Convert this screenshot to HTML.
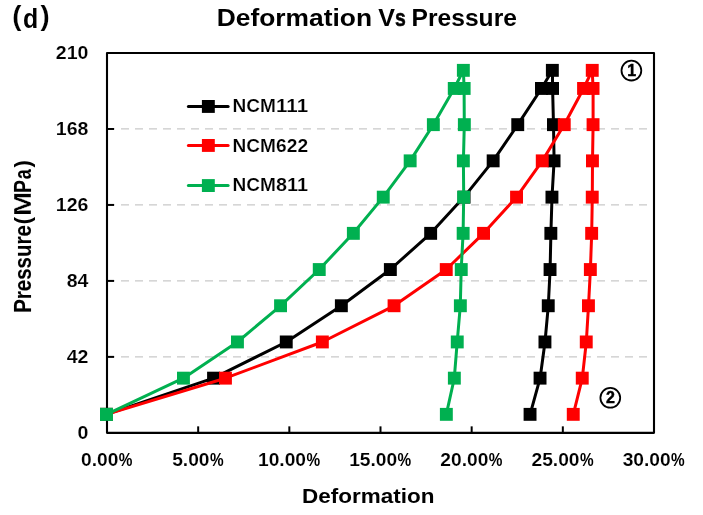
<!DOCTYPE html>
<html><head><meta charset="utf-8"><title>Deformation Vs Pressure</title>
<style>html,body{margin:0;padding:0;background:#fff;}body{width:703px;height:515px;overflow:hidden;}svg{display:block;will-change:transform;}text{font-family:"Liberation Sans",sans-serif;font-weight:bold;fill:#000;}</style>
</head><body>
<svg width="703" height="515" viewBox="0 0 703 515">
<g stroke="#c9c9c9" stroke-width="1.3" stroke-dasharray="8 6" fill="none">
<line x1="107.0" y1="356.88" x2="654.0" y2="356.88"/>
<line x1="107.0" y1="280.91" x2="654.0" y2="280.91"/>
<line x1="107.0" y1="204.94" x2="654.0" y2="204.94"/>
<line x1="107.0" y1="128.97" x2="654.0" y2="128.97"/>
</g>
<g fill="#000000" stroke="none">
<polyline fill="none" stroke="#000000" stroke-width="3.0" stroke-linejoin="round" stroke-linecap="round" points="106.5,414.4 213.5,378.2 286.2,342.0 341.4,305.8 390.3,269.5 430.7,233.3 464.0,197.1 493.1,160.9 517.8,124.7 541.5,88.5 552.4,70.3 552.6,88.5 553.5,124.7 554.1,160.9 552.0,197.1 550.9,233.3 550.1,269.5 548.3,305.8 545.0,342.0 540.1,378.2 530.1,414.4"/>
<rect x="100.0" y="407.9" width="12.9" height="12.9"/>
<rect x="207.1" y="371.7" width="12.9" height="12.9"/>
<rect x="279.8" y="335.5" width="12.9" height="12.9"/>
<rect x="334.9" y="299.3" width="12.9" height="12.9"/>
<rect x="383.9" y="263.1" width="12.9" height="12.9"/>
<rect x="424.2" y="226.9" width="12.9" height="12.9"/>
<rect x="457.6" y="190.7" width="12.9" height="12.9"/>
<rect x="486.7" y="154.4" width="12.9" height="12.9"/>
<rect x="511.3" y="118.2" width="12.9" height="12.9"/>
<rect x="535.0" y="82.0" width="12.9" height="12.9"/>
<rect x="545.9" y="63.9" width="12.9" height="12.9"/>
<rect x="546.1" y="82.0" width="12.9" height="12.9"/>
<rect x="547.0" y="118.2" width="12.9" height="12.9"/>
<rect x="547.6" y="154.4" width="12.9" height="12.9"/>
<rect x="545.5" y="190.7" width="12.9" height="12.9"/>
<rect x="544.4" y="226.9" width="12.9" height="12.9"/>
<rect x="543.6" y="263.1" width="12.9" height="12.9"/>
<rect x="541.8" y="299.3" width="12.9" height="12.9"/>
<rect x="538.5" y="335.5" width="12.9" height="12.9"/>
<rect x="533.6" y="371.7" width="12.9" height="12.9"/>
<rect x="523.6" y="407.9" width="12.9" height="12.9"/>
</g>
<g fill="#ff0000" stroke="none">
<polyline fill="none" stroke="#ff0000" stroke-width="3.0" stroke-linejoin="round" stroke-linecap="round" points="106.5,414.4 225.4,378.2 322.3,342.0 394.0,305.8 446.2,269.5 483.5,233.3 516.5,197.1 542.3,160.9 564.2,124.7 583.6,88.5 592.2,70.3 593.1,88.5 593.1,124.7 592.5,160.9 592.3,197.1 591.7,233.3 590.4,269.5 588.5,305.8 586.3,342.0 582.3,378.2 573.3,414.4"/>
<rect x="100.0" y="407.9" width="12.9" height="12.9"/>
<rect x="219.0" y="371.7" width="12.9" height="12.9"/>
<rect x="315.9" y="335.5" width="12.9" height="12.9"/>
<rect x="387.6" y="299.3" width="12.9" height="12.9"/>
<rect x="439.8" y="263.1" width="12.9" height="12.9"/>
<rect x="477.1" y="226.9" width="12.9" height="12.9"/>
<rect x="510.1" y="190.7" width="12.9" height="12.9"/>
<rect x="535.8" y="154.4" width="12.9" height="12.9"/>
<rect x="557.8" y="118.2" width="12.9" height="12.9"/>
<rect x="577.1" y="82.0" width="12.9" height="12.9"/>
<rect x="585.8" y="63.9" width="12.9" height="12.9"/>
<rect x="586.6" y="82.0" width="12.9" height="12.9"/>
<rect x="586.6" y="118.2" width="12.9" height="12.9"/>
<rect x="586.0" y="154.4" width="12.9" height="12.9"/>
<rect x="585.8" y="190.7" width="12.9" height="12.9"/>
<rect x="585.2" y="226.9" width="12.9" height="12.9"/>
<rect x="583.9" y="263.1" width="12.9" height="12.9"/>
<rect x="582.0" y="299.3" width="12.9" height="12.9"/>
<rect x="579.8" y="335.5" width="12.9" height="12.9"/>
<rect x="575.8" y="371.7" width="12.9" height="12.9"/>
<rect x="566.8" y="407.9" width="12.9" height="12.9"/>
</g>
<g fill="#00b050" stroke="none">
<polyline fill="none" stroke="#00b050" stroke-width="3.0" stroke-linejoin="round" stroke-linecap="round" points="106.5,414.4 183.4,378.2 237.4,342.0 280.5,305.8 319.2,269.5 353.3,233.3 383.2,197.1 410.1,160.9 433.3,124.7 454.2,88.5 463.4,70.3 464.1,88.5 464.3,124.7 463.4,160.9 463.7,197.1 463.1,233.3 461.2,269.5 460.3,305.8 457.2,342.0 454.3,378.2 446.3,414.4"/>
<rect x="100.0" y="407.9" width="12.9" height="12.9"/>
<rect x="177.0" y="371.7" width="12.9" height="12.9"/>
<rect x="231.0" y="335.5" width="12.9" height="12.9"/>
<rect x="274.1" y="299.3" width="12.9" height="12.9"/>
<rect x="312.8" y="263.1" width="12.9" height="12.9"/>
<rect x="346.9" y="226.9" width="12.9" height="12.9"/>
<rect x="376.8" y="190.7" width="12.9" height="12.9"/>
<rect x="403.7" y="154.4" width="12.9" height="12.9"/>
<rect x="426.9" y="118.2" width="12.9" height="12.9"/>
<rect x="447.8" y="82.0" width="12.9" height="12.9"/>
<rect x="456.9" y="63.9" width="12.9" height="12.9"/>
<rect x="457.7" y="82.0" width="12.9" height="12.9"/>
<rect x="457.9" y="118.2" width="12.9" height="12.9"/>
<rect x="456.9" y="154.4" width="12.9" height="12.9"/>
<rect x="457.2" y="190.7" width="12.9" height="12.9"/>
<rect x="456.7" y="226.9" width="12.9" height="12.9"/>
<rect x="454.8" y="263.1" width="12.9" height="12.9"/>
<rect x="453.9" y="299.3" width="12.9" height="12.9"/>
<rect x="450.8" y="335.5" width="12.9" height="12.9"/>
<rect x="447.9" y="371.7" width="12.9" height="12.9"/>
<rect x="439.9" y="407.9" width="12.9" height="12.9"/>
</g>
<rect x="107.0" y="53.0" width="547.0" height="379.85" fill="none" stroke="#000" stroke-width="2.1" stroke-linejoin="round"/>
<g stroke="#000" stroke-width="2" fill="none">
<line x1="198.17" y1="432.85" x2="198.17" y2="426.35"/>
<line x1="289.33" y1="432.85" x2="289.33" y2="426.35"/>
<line x1="380.50" y1="432.85" x2="380.50" y2="426.35"/>
<line x1="471.67" y1="432.85" x2="471.67" y2="426.35"/>
<line x1="562.83" y1="432.85" x2="562.83" y2="426.35"/>
<line x1="107.0" y1="356.88" x2="114.0" y2="356.88"/>
<line x1="107.0" y1="280.91" x2="114.0" y2="280.91"/>
<line x1="107.0" y1="204.94" x2="114.0" y2="204.94"/>
<line x1="107.0" y1="128.97" x2="114.0" y2="128.97"/>
</g>
<rect x="100.0" y="407.9" width="12.9" height="12.9" fill="#00b050"/>
<text x="12.3" y="24.7" font-size="27.5" text-anchor="start" stroke="#fff" stroke-width="0.12">(</text>
<text x="23.0" y="28.2" font-size="27.5" text-anchor="start" textLength="15.2" lengthAdjust="spacingAndGlyphs">d</text>
<text x="40.5" y="24.7" font-size="27.5" text-anchor="start" stroke="#fff" stroke-width="0.12">)</text>
<text x="216.8" y="25.7" font-size="23.8" text-anchor="start" textLength="155.2" lengthAdjust="spacingAndGlyphs">Deformation</text>
<text x="378.3" y="25.7" font-size="23.8" text-anchor="start" textLength="16.7" lengthAdjust="spacingAndGlyphs">V</text>
<text x="395.0" y="25.7" font-size="23.8" text-anchor="start" textLength="10.8" lengthAdjust="spacingAndGlyphs" stroke="#000" stroke-width="0.5">s</text>
<text x="411.6" y="25.7" font-size="23.8" text-anchor="start" textLength="105.3" lengthAdjust="spacingAndGlyphs">Pressure</text>
<text x="88.4" y="439.2" font-size="18" text-anchor="end" textLength="10.9" lengthAdjust="spacingAndGlyphs" stroke="#fff" stroke-width="0.12">0</text>
<text x="88.4" y="363.2" font-size="18" text-anchor="end" textLength="21.7" lengthAdjust="spacingAndGlyphs" stroke="#fff" stroke-width="0.12">42</text>
<text x="88.4" y="287.2" font-size="18" text-anchor="end" textLength="21.7" lengthAdjust="spacingAndGlyphs" stroke="#fff" stroke-width="0.12">84</text>
<text x="88.4" y="211.2" font-size="18" text-anchor="end" textLength="32.6" lengthAdjust="spacingAndGlyphs" stroke="#fff" stroke-width="0.12">126</text>
<text x="88.4" y="135.3" font-size="18" text-anchor="end" textLength="32.6" lengthAdjust="spacingAndGlyphs" stroke="#fff" stroke-width="0.12">168</text>
<text x="88.4" y="59.3" font-size="18" text-anchor="end" textLength="32.6" lengthAdjust="spacingAndGlyphs" stroke="#fff" stroke-width="0.12">210</text>
<text x="81.03" y="466.0" font-size="18" text-anchor="start" textLength="37.34" lengthAdjust="spacingAndGlyphs" stroke="#fff" stroke-width="0.1">0.00</text>
<text x="118.77" y="466.0" font-size="18" text-anchor="start" textLength="13.65" lengthAdjust="spacingAndGlyphs">%</text>
<text x="172.20" y="466.0" font-size="18" text-anchor="start" textLength="37.34" lengthAdjust="spacingAndGlyphs" stroke="#fff" stroke-width="0.1">5.00</text>
<text x="209.94" y="466.0" font-size="18" text-anchor="start" textLength="13.65" lengthAdjust="spacingAndGlyphs">%</text>
<text x="258.02" y="466.0" font-size="18" text-anchor="start" textLength="48.02" lengthAdjust="spacingAndGlyphs" stroke="#fff" stroke-width="0.1">10.00</text>
<text x="306.44" y="466.0" font-size="18" text-anchor="start" textLength="13.65" lengthAdjust="spacingAndGlyphs">%</text>
<text x="349.19" y="466.0" font-size="18" text-anchor="start" textLength="48.02" lengthAdjust="spacingAndGlyphs" stroke="#fff" stroke-width="0.1">15.00</text>
<text x="397.61" y="466.0" font-size="18" text-anchor="start" textLength="13.65" lengthAdjust="spacingAndGlyphs">%</text>
<text x="440.36" y="466.0" font-size="18" text-anchor="start" textLength="48.02" lengthAdjust="spacingAndGlyphs" stroke="#fff" stroke-width="0.1">20.00</text>
<text x="488.78" y="466.0" font-size="18" text-anchor="start" textLength="13.65" lengthAdjust="spacingAndGlyphs">%</text>
<text x="531.52" y="466.0" font-size="18" text-anchor="start" textLength="48.02" lengthAdjust="spacingAndGlyphs" stroke="#fff" stroke-width="0.1">25.00</text>
<text x="579.94" y="466.0" font-size="18" text-anchor="start" textLength="13.65" lengthAdjust="spacingAndGlyphs">%</text>
<text x="622.69" y="466.0" font-size="18" text-anchor="start" textLength="48.02" lengthAdjust="spacingAndGlyphs" stroke="#fff" stroke-width="0.1">30.00</text>
<text x="671.11" y="466.0" font-size="18" text-anchor="start" textLength="13.65" lengthAdjust="spacingAndGlyphs">%</text>
<text x="302.0" y="502.5" font-size="20.4" text-anchor="start" textLength="132.4" lengthAdjust="spacingAndGlyphs">Deformation</text>
<text transform="translate(30.8,312.8) rotate(-90)" font-size="23" stroke="#000" stroke-width="0.12" textLength="87.6" lengthAdjust="spacingAndGlyphs">Pressure</text>
<text transform="translate(29.8,224.2) rotate(-90)" font-size="22" stroke="#000" stroke-width="0">(</text>
<text transform="translate(30.8,215.9) rotate(-90)" font-size="23" stroke="#fff" stroke-width="0.3" textLength="24.2" lengthAdjust="spacingAndGlyphs">M</text>
<text transform="translate(30.8,192.9) rotate(-90)" font-size="23" stroke="#000" stroke-width="0.12" textLength="12.9" lengthAdjust="spacingAndGlyphs">P</text>
<text transform="translate(30.8,179.3) rotate(-90)" font-size="23" stroke="#000" stroke-width="0.12" textLength="10.0" lengthAdjust="spacingAndGlyphs">a</text>
<text transform="translate(29.8,167.6) rotate(-90)" font-size="22" stroke="#000" stroke-width="0">)</text>
<line x1="188.4" y1="106.4" x2="228.1" y2="106.4" stroke="#000000" stroke-width="3.0" stroke-linecap="round"/>
<rect x="201.9" y="100.0" width="12.9" height="12.9" fill="#000000"/>
<text x="232.6" y="111.8" font-size="17.6" text-anchor="start" textLength="43.4" lengthAdjust="spacingAndGlyphs" stroke="#fff" stroke-width="0.15">NCM</text>
<text x="276.1" y="111.8" font-size="17.6" text-anchor="start" textLength="31.95" lengthAdjust="spacingAndGlyphs" stroke="#fff" stroke-width="0.15">111</text>
<line x1="188.4" y1="145.4" x2="228.1" y2="145.4" stroke="#ff0000" stroke-width="3.0" stroke-linecap="round"/>
<rect x="201.9" y="139.0" width="12.9" height="12.9" fill="#ff0000"/>
<text x="232.6" y="151.8" font-size="17.6" text-anchor="start" textLength="43.4" lengthAdjust="spacingAndGlyphs" stroke="#fff" stroke-width="0.15">NCM</text>
<text x="276.1" y="151.8" font-size="17.6" text-anchor="start" textLength="31.95" lengthAdjust="spacingAndGlyphs" stroke="#fff" stroke-width="0.15">622</text>
<line x1="188.4" y1="185.5" x2="228.1" y2="185.5" stroke="#00b050" stroke-width="3.0" stroke-linecap="round"/>
<rect x="201.9" y="179.1" width="12.9" height="12.9" fill="#00b050"/>
<text x="232.6" y="191.1" font-size="17.6" text-anchor="start" textLength="43.4" lengthAdjust="spacingAndGlyphs" stroke="#fff" stroke-width="0.15">NCM</text>
<text x="276.1" y="191.1" font-size="17.6" text-anchor="start" textLength="31.95" lengthAdjust="spacingAndGlyphs" stroke="#fff" stroke-width="0.15">811</text>
<circle cx="631.4" cy="70.6" r="9.9" fill="none" stroke="#000" stroke-width="1.8"/>
<text x="631.6" y="76.2" font-size="16" text-anchor="middle" stroke="#000" stroke-width="0.45">1</text>
<circle cx="610.3" cy="397.8" r="9.9" fill="none" stroke="#000" stroke-width="1.8"/>
<text x="610.5" y="403.4" font-size="16" text-anchor="middle" stroke="#000" stroke-width="0.45">2</text>
</svg>
</body></html>
